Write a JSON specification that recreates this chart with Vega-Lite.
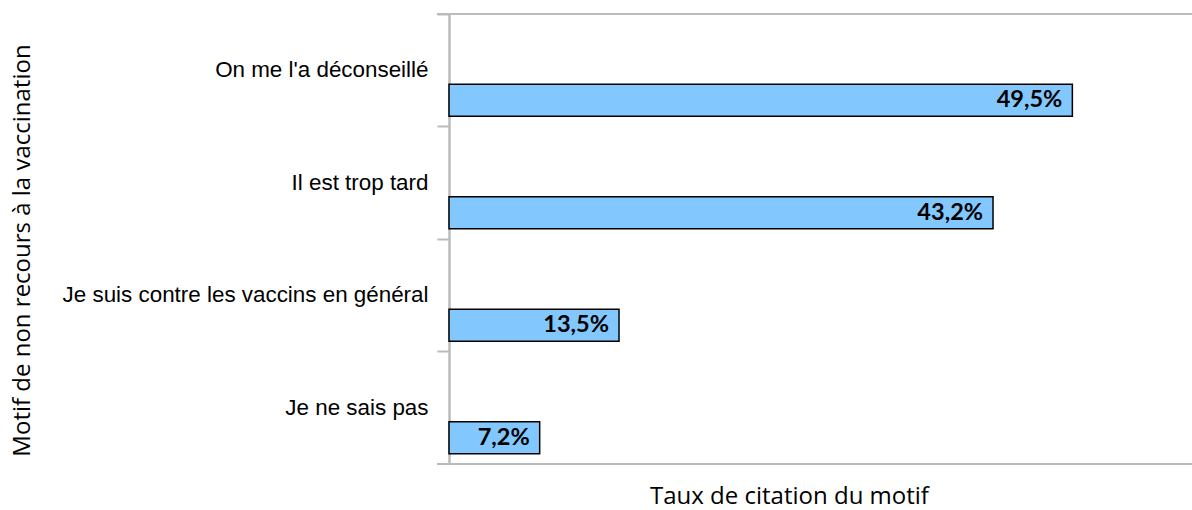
{
  "$schema": "https://vega.github.io/schema/vega-lite/v6.json",
  "autosize": {"type": "none"},
  "padding": {"left": 449, "top": 14, "right": 0, "bottom": 46},
  "width": 743,
  "height": 450,
  "background": "white",
  "config": {"view": {"stroke": null}},
  "data": {"values": [
    {"motif": "On me l'a déconseillé", "taux": 49.5, "label": "49,5%"},
    {"motif": "Il est trop tard", "taux": 43.2, "label": "43,2%"},
    {"motif": "Je suis contre les vaccins en général", "taux": 13.5, "label": "13,5%"},
    {"motif": "Je ne sais pas", "taux": 7.2, "label": "7,2%"}
  ]},
  "layer": [
    {
      "mark": {"type": "bar", "height": 32, "yOffset": 30, "fill": "#82c8ff", "stroke": "#000000", "strokeWidth": 1.5},
      "encoding": {
        "y": {"field": "motif", "type": "nominal", "sort": null,
          "scale": {"paddingInner": 0, "paddingOuter": 0},
          "axis": {"title": "Motif de non recours à la vaccination", "bandPosition": 0,
            "labelOffset": 0, "labelPadding": 9, "tickSize": 12, "tickColor": "#bbbbbb", "tickWidth": 2,
            "domainColor": "#bbbbbb", "domainWidth": 2.5,
            "labelFont": "Liberation Sans", "labelFontSize": 22.4, "labelColor": "#000000", "labelLimit": 500,
            "titleFont": "Open Sans", "titleFontSize": 24, "titleFontWeight": "normal", "titleColor": "#000000",
            "titleX": -427, "titleY": 236, "titleAlign": "center", "titleBaseline": "middle", "titleAngle": -90}},
        "x": {"field": "taux", "type": "quantitative",
          "scale": {"domain": [0, 59], "nice": false, "zero": true},
          "axis": {"title": "Taux de citation du motif", "labels": false, "ticks": false, "grid": false, "domain": false,
            "titleFont": "Open Sans", "titleFontSize": 24, "titleFontWeight": "normal", "titleColor": "#000000",
            "titleX": 340, "titleY": 32, "titleAlign": "center", "titleBaseline": "middle"}}
      }
    },
    {
      "mark": {"type": "text", "align": "right", "baseline": "middle", "dx": -10, "yOffset": 30, "font": "Lato", "fontWeight": "bold", "fontSize": 23.5, "color": "#000000"},
      "encoding": {
        "y": {"field": "motif", "type": "nominal", "sort": null},
        "x": {"field": "taux", "type": "quantitative"},
        "text": {"field": "label"}
      }
    },
    {
      "mark": {"type": "rule", "color": "#bbbbbb", "strokeWidth": 2},
      "encoding": {
        "x": {"datum": -0.95},
        "x2": {"datum": 59},
        "y": {"value": 0}
      }
    },
    {
      "mark": {"type": "rule", "color": "#bbbbbb", "strokeWidth": 2},
      "encoding": {
        "x": {"datum": -0.95},
        "x2": {"datum": 59},
        "y": {"value": "height"}
      }
    }
  ]
}
